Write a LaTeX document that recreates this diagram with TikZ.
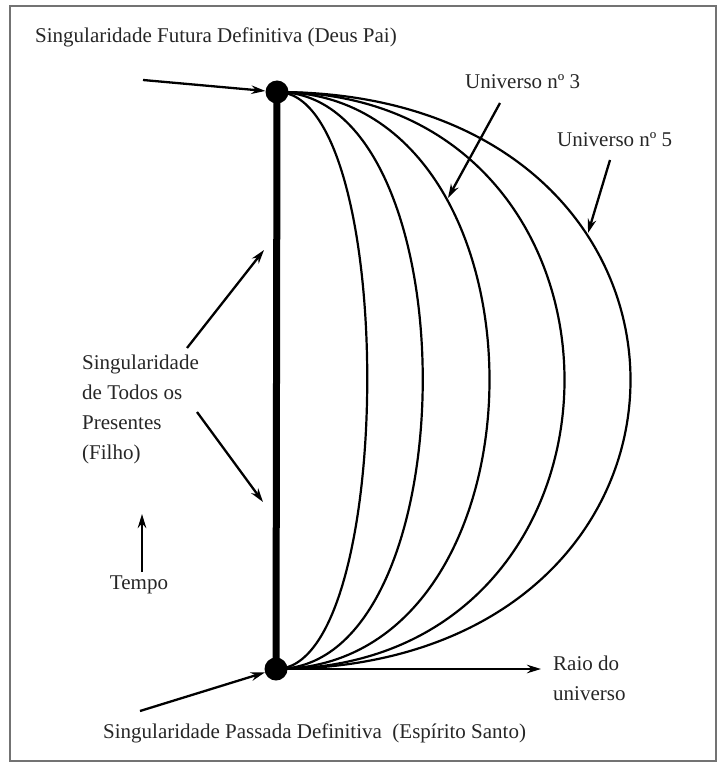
\documentclass[tikz,border=0pt]{standalone}
\usepackage{fontspec}
\setmainfont{Liberation Serif}
\usetikzlibrary{arrows.meta}
\begin{document}
\begin{tikzpicture}[x=1pt,y=-1pt,
  lbl/.style={inner sep=0pt, text=black!85, font=\fontsize{21}{30}\selectfont},
  arr/.style={line width=2.3pt, -{Stealth[length=14pt,width=8.5pt]}},
  univ/.style={line width=2.2pt},
  dot/.style={circle, fill=black, inner sep=0pt, minimum size=23pt}]
\useasboundingbox (0,0) rectangle (720,767);
\draw[black!55, line width=1.5pt] (10,6) rectangle (716,761);

% singularities
\node[dot] (T) at (277,92) {};
\node[dot] (B) at (276,669) {};
\draw[line width=7pt] (T.center) -- (B.center);

% universes
\foreach \a/\n in {121/u1,195/u2,284/u3,384/u4,472/u5}{
  \draw[univ] (T.center) .. controls +(\a,0) and +(\a,0) .. (B.center);
}

% labels
\node[lbl, anchor=west] (futura) at (35,37) {Singularidade Futura Definitiva (Deus Pai)};
\node[lbl, anchor=west] (passada) at (103,733) {Singularidade Passada Definitiva\ \ (Espírito Santo)};
\node[lbl, anchor=west] (un3) at (465,82) {Universo nº 3};
\node[lbl, anchor=west] (un5) at (557,140) {Universo nº 5};
\node[lbl, anchor=north west, align=left] (filho) at (82,355) {Singularidade\\de Todos os\\Presentes\\(Filho)};
\node[lbl, anchor=center] (tempo) at (139,585) {Tempo};
\node[lbl, anchor=north west, align=left] (raio) at (553,656) {Raio do\\universo};

% arrow endpoints
\coordinate (a1) at (143,80);
\coordinate (a2) at (140,711);
\coordinate (rtip) at (541,669);
\coordinate (f1s) at (187,348);
\coordinate (f1e) at (264,250);
\coordinate (f2s) at (197,412);
\coordinate (f2e) at (263,502);
\coordinate (ts) at (142,572);
\coordinate (te) at (142,514);
\coordinate (u3s) at (500,103);
\coordinate (u3e) at (448,198);
\coordinate (u5s) at (610,160);
\coordinate (u5e) at (588,233);

\draw[arr] (a1) -- (T);
\draw[arr] (a2) -- (B);
\draw[arr, line width=2.8pt] (B) -- (rtip);
\draw[arr] (f1s) -- (f1e);
\draw[arr] (f2s) -- (f2e);
\draw[arr] (ts) -- (te);
\draw[arr] (u3s) -- (u3e);
\draw[arr] (u5s) -- (u5e);
\end{tikzpicture}
\end{document}
